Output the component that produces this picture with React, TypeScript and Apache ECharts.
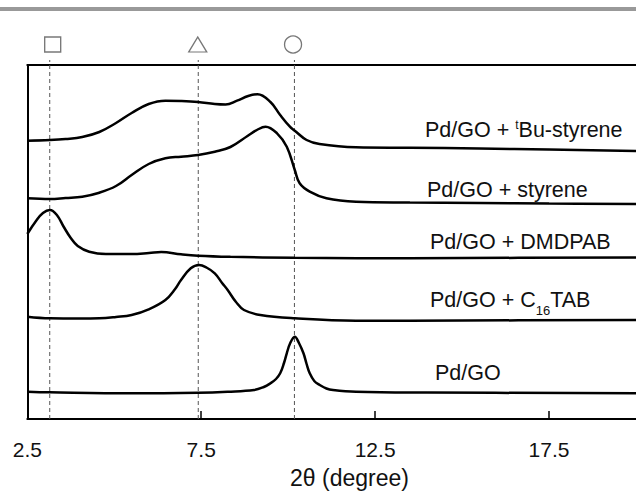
import React, { useEffect, useRef } from "react";
import * as echarts from "echarts";

// 2θ (degree) positions and intensity (arbitrary units, stacked offsets)
const tbuX = [2.5, 3.15, 3.6, 4.08, 4.57, 5.05, 5.5, 5.99, 6.47, 6.92, 7.41, 7.89, 8.2, 8.53, 8.85, 9.12, 9.49, 9.77, 10.05, 10.19, 10.53, 10.9, 11.95, 13.5, 15.5, 17.5, 20];
const tbuY = [278.3, 279, 280, 282, 287, 296, 306, 315, 318.3, 318, 317, 315, 314.5, 318.3, 323, 324.7, 317, 304, 292.3, 288.3, 279, 275, 271.7, 271.2, 270.5, 269.5, 268];

const styX = [2.5, 3.15, 3.6, 4.08, 4.57, 5.05, 5.5, 5.99, 6.47, 6.92, 7.41, 7.89, 8.34, 8.83, 9.1, 9.35, 9.68, 9.96, 10.19, 10.33, 10.62, 11.1, 11.95, 13.5, 15.5, 17.5, 20];
const styY = [220.7, 220, 221, 222.3, 226.3, 233, 244, 255, 260.7, 262.3, 264, 267.3, 272, 283, 289, 292.3, 285.7, 272.3, 249, 235.7, 227.3, 220.7, 217.3, 216.5, 216, 215.5, 215];

const dmdX = [2.5, 2.75, 2.95, 3.15, 3.35, 3.55, 3.75, 3.95, 4.28, 4.76, 5.5, 6.0, 6.35, 6.92, 7.41, 8.34, 10.19, 12, 15, 20];
const dmdY = [185, 198, 206, 209, 204, 192, 181, 173, 167.3, 165, 165, 166, 167, 164.7, 163.3, 162.2, 161.2, 160.8, 161, 161.5];

const c16X = [2.5, 3.15, 4.0, 4.57, 5.05, 5.5, 5.99, 6.47, 6.75, 6.92, 7.2, 7.44, 7.65, 7.89, 8.1, 8.26, 8.5, 8.73, 9.2, 10.19, 11.95, 15, 20];
const c16Y = [102.3, 100.7, 100.5, 100.7, 102, 104, 109.7, 119, 130, 139, 150.7, 154, 151.5, 145.7, 136, 129, 117, 109, 104, 100.7, 98.3, 98.5, 99];

const goX = [2.5, 3.15, 5.5, 7.41, 8.26, 9.02, 9.3, 9.49, 9.65, 9.77, 9.88, 9.96, 10.06, 10.19, 10.31, 10.44, 10.53, 10.62, 10.75, 10.91, 11.1, 11.29, 11.95, 14, 20];
const goY = [27.3, 26.7, 25.7, 26.3, 27.3, 29, 32, 35.7, 40, 45.7, 56, 65.7, 76, 82.3, 76, 65.7, 55, 45.7, 38, 34, 30.5, 29, 27.3, 26.5, 25.7];

// reference peak positions (dashed lines) and markers
const refX = [3.145, 7.415, 10.18];
const markerX = [3.23, 7.4, 10.14];
const markerLevel = 374.5;
const markerSymbols = ["rect", "triangle", "circle"];

const curveLabels = [
  "Pd/GO + {sup|t}Bu-styrene",
  "Pd/GO + styrene",
  "Pd/GO + DMDPAB",
  "Pd/GO + C{sub|16}TAB",
  "Pd/GO",
];

const xMin = 2.5;
const xMax = 20;
const xStep = 5;
const yMin = 0;
const yMax = 354;
const refTop = 359;

const FONT = '"Liberation Sans", Arial, Helvetica, sans-serif';

const pairs = (xs: number[], ys: number[]) => xs.map((x, i) => [x, ys[i]]);

export default function App() {
  const ref = useRef<HTMLDivElement>(null);

  useEffect(() => {
    if (!ref.current) return;
    const chart = echarts.init(ref.current, undefined, { renderer: "svg" });

    const curves = [
      pairs(tbuX, tbuY),
      pairs(styX, styY),
      pairs(dmdX, dmdY),
      pairs(c16X, c16Y),
      pairs(goX, goY),
    ];

    const labelPos = [
      [425, 130],
      [427, 190],
      [430, 242],
      [430, 300],
      [435, 372.5],
    ];

    const series: any[] = [];
    curves.forEach((d) => {
      series.push({
        type: "line",
        data: d,
        smooth: 0.4,
        showSymbol: false,
        symbol: "none",
        silent: true,
        lineStyle: { color: "#000", width: 2.5 },
        z: 3,
      });
    });
    refX.forEach((x) => {
      series.push({
        type: "line",
        data: [
          [x, yMin],
          [x, refTop],
        ],
        symbol: "none",
        silent: true,
        clip: false,
        lineStyle: { color: "#555", width: 1, type: [4, 3] },
        z: 2,
      });
    });
    series.push({
      type: "scatter",
      clip: false,
      silent: true,
      data: markerX.map((x, i) => ({
        value: [x, markerLevel],
        symbol: markerSymbols[i],
        symbolSize: i === 0 ? [16, 15] : i === 1 ? [18, 15] : [17, 17],
      })),
      itemStyle: { color: "#fff", borderColor: "#555", borderWidth: 1.3 },
      z: 4,
    });

    chart.setOption({
      animation: false,
      backgroundColor: "#fff",
      grid: { left: 27.3, top: 65, width: 616, height: 354, show: false },
      xAxis: [
        {
          type: "value",
          min: xMin,
          max: xMax,
          interval: xStep,
          position: "bottom",
          axisLine: { show: true, onZero: false, lineStyle: { color: "#000", width: 2 } },
          axisTick: { show: true, inside: true, length: 8, lineStyle: { color: "#000", width: 1.5 } },
          axisLabel: {
            show: true,
            fontSize: 21,
            color: "#111",
            fontFamily: FONT,
            margin: 20,
            showMaxLabel: false,
          },
          splitLine: { show: false },
        },
        {
          type: "value",
          min: xMin,
          max: xMax,
          position: "top",
          axisLine: { show: true, onZero: false, lineStyle: { color: "#000", width: 2 } },
          axisTick: { show: false },
          axisLabel: { show: false },
          splitLine: { show: false },
        },
      ],
      yAxis: {
        type: "value",
        min: yMin,
        max: yMax,
        axisLine: { show: true, onZero: false, lineStyle: { color: "#000", width: 2 } },
        axisTick: { show: false },
        axisLabel: { show: false },
        splitLine: { show: false },
      },
      series,
      graphic: [
        {
          type: "rect",
          shape: { x: 0, y: 7, width: 636, height: 4 },
          style: { fill: "#999" },
          silent: true,
        },
        {
          type: "text",
          style: {
            text: "2θ (degree)",
            x: 349.5,
            y: 478,
            fill: "#111",
            fontSize: 23,
            fontFamily: FONT,
            align: "center",
            verticalAlign: "middle",
          },
          silent: true,
        },
        ...curveLabels.map((t, i) => ({
          type: "text",
          silent: true,
          style: {
            text: t,
            x: labelPos[i][0],
            y: labelPos[i][1],
            fill: "#111",
            fontSize: 21.5,
            fontFamily: FONT,
            align: "left",
            verticalAlign: "middle",
            rich: {
              sup: { fontSize: 12, fontFamily: FONT, fill: "#111", verticalAlign: "top" },
              sub: { fontSize: 13, fontFamily: FONT, fill: "#111", verticalAlign: "bottom", padding: [0, 0, -6, 0] },
            },
          },
        })),
      ],
    });

    return () => chart.dispose();
  }, []);

  return (
    <div
      ref={ref}
      style={{ position: "fixed", left: 0, top: 0, width: 636, height: 491, background: "#fff" }}
    />
  );
}
